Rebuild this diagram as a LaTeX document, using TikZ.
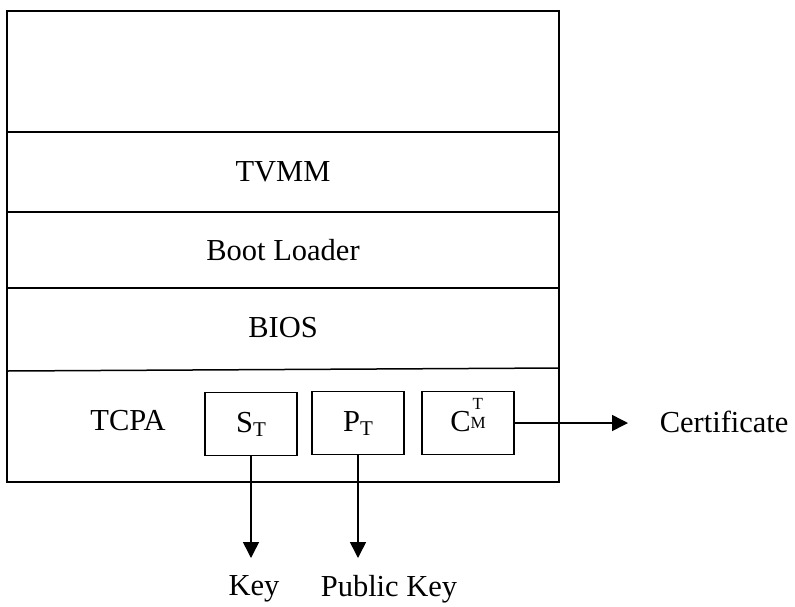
\documentclass[tikz,border=0pt]{standalone}
\usepackage{fontspec}
\setmainfont{Liberation Serif}
\usetikzlibrary{arrows.meta}
\begin{document}
\begin{tikzpicture}[x=1pt,y=-1pt,
  line width=1.5pt,
  lbl/.style={font=\fontsize{30.5}{36}\selectfont, inner sep=0pt},
  kbox/.style={draw, minimum width=92pt, minimum height=63pt, inner sep=0pt, text height=22pt, text depth=5pt, font=\fontsize{30.5}{36}\selectfont},
  arr/.style={-{Triangle[length=16pt,width=16pt]}, line width=1.5pt}]
\useasboundingbox (0,0) rectangle (795,606);
% outer stack
\draw (7,11) rectangle (559,482);
\draw (7,132) -- (559,132);
\draw (7,212) -- (559,212);
\draw (7,288) -- (559,288);
\draw (7,371) -- (559,368);
\node[lbl] (tvmm) at (283,172) {TVMM};
\node[lbl] (boot) at (283,250) {Boot Loader};
\node[lbl] (bios) at (283,328) {BIOS};
\node[lbl] (tcpa) at (128,421) {TCPA};
% key boxes
\node[kbox] (st) at (251,424) {S\raisebox{-4pt}{\fontsize{21}{24}\selectfont T}};
\node[kbox] (pt) at (358,423) {P\raisebox{-4pt}{\fontsize{21}{24}\selectfont T}};
\node[kbox] (cm) at (468,423) {C\rlap{\raisebox{22pt}{\fontsize{17}{20}\selectfont\kern2pt T}}\raisebox{3pt}{\fontsize{17}{20}\selectfont M}};
% outputs
\node[lbl, anchor=west] (cert) at (659,422) {Certificate};
\node[lbl] (key) at (254,589) {Key};
\node[lbl] (pkey) at (389,589) {Public Key};
\coordinate (certend) at (628,423);
\coordinate (keyend) at (251,558);
\coordinate (pkeyend) at (358,558);
\draw[arr] (cm.east) -- (certend);
\draw[arr] (st.south) -- (keyend);
\draw[arr] (pt.south) -- (pkeyend);
\end{tikzpicture}
\end{document}
